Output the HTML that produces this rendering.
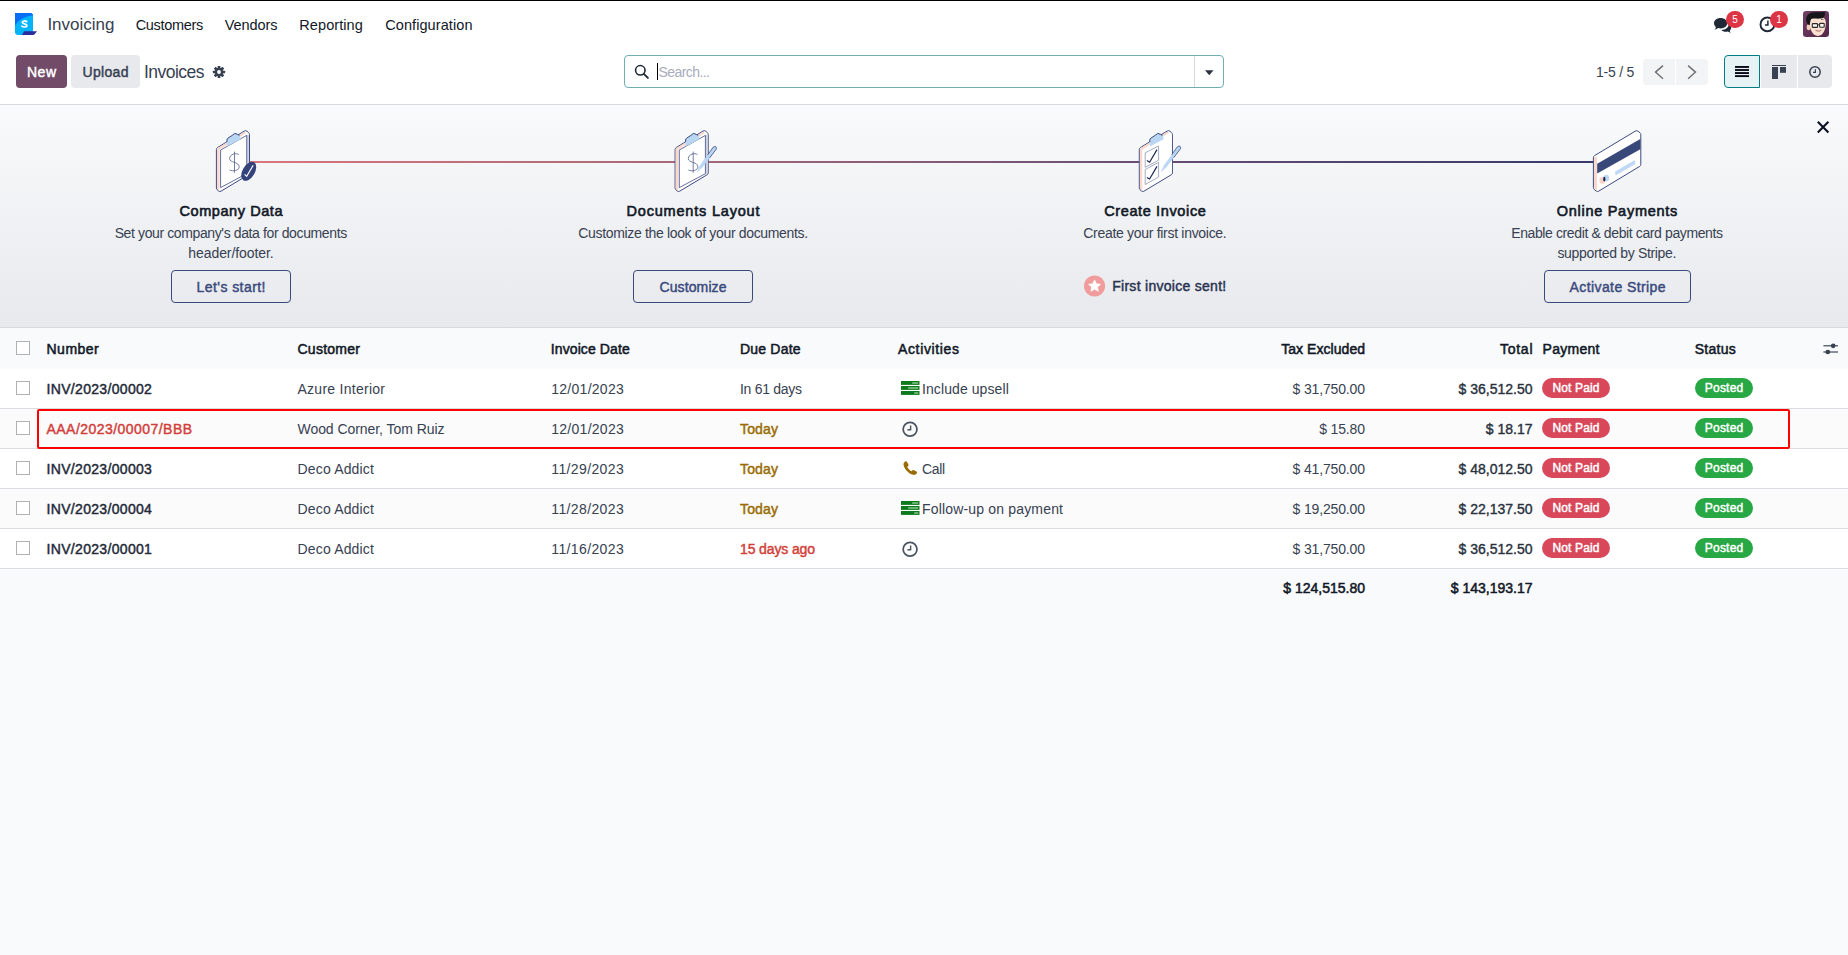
<!DOCTYPE html>
<html lang="en"><head><meta charset="utf-8"><title>Odoo - Invoices</title>
<style>
html,body{margin:0;padding:0}
body{width:1848px;height:955px;overflow:hidden;position:relative;background:#F9FAFB;font-family:"Liberation Sans",sans-serif;font-size:14px;color:#374151}
.t{position:absolute;white-space:pre;line-height:20px;font-family:"Liberation Sans",sans-serif}
svg{display:block;overflow:visible}
</style></head><body>
<div style="position:absolute;left:0px;top:0px;width:1848px;height:104px;background:#fff"></div>
<div style="position:absolute;left:0px;top:0px;width:1848px;height:1px;background:#000"></div>
<div style="position:absolute;left:0px;top:104px;width:1848px;height:1px;background:#D5D8DC"></div>
<div style="position:absolute;left:0px;top:105px;width:1848px;height:222px;background:linear-gradient(180deg,#F9FAFB 0%,#E7E9ED 100%)"></div>
<div style="position:absolute;left:0px;top:327px;width:1848px;height:1px;background:#D5D8DC"></div>
<div style="position:absolute;left:0px;top:328px;width:1848px;height:41px;background:#F9FAFB"></div>
<div style="position:absolute;left:0px;top:369px;width:1848px;height:39px;background:#fff"></div>
<div style="position:absolute;left:0px;top:408px;width:1848px;height:1px;background:#DADDE1"></div>
<div style="position:absolute;left:0px;top:409px;width:1848px;height:39px;background:#FBFBFC"></div>
<div style="position:absolute;left:0px;top:448px;width:1848px;height:1px;background:#DADDE1"></div>
<div style="position:absolute;left:0px;top:449px;width:1848px;height:39px;background:#fff"></div>
<div style="position:absolute;left:0px;top:488px;width:1848px;height:1px;background:#DADDE1"></div>
<div style="position:absolute;left:0px;top:489px;width:1848px;height:39px;background:#FBFBFC"></div>
<div style="position:absolute;left:0px;top:528px;width:1848px;height:1px;background:#DADDE1"></div>
<div style="position:absolute;left:0px;top:529px;width:1848px;height:39px;background:#fff"></div>
<div style="position:absolute;left:0px;top:568px;width:1848px;height:1px;background:#DADDE1"></div>
<svg style="position:absolute;left:15px;top:13px" width="22" height="22" viewBox="0 0 22 22">
<path d="M0 0H16.2L18 1.6V22H3.2A3.2 3.2 0 0 1 0 18.8Z" fill="#00B4FC"/>
<path d="M0 0H16.2L18 1.6V2.2C8 3.5 2 8 0 13Z" fill="#0A6EF5"/>
<path d="M9 18.2H22L19.6 21.2Q19 22 18 22H6.2Q8 21.6 9 18.2Z" fill="#2B2D9B"/>
<path d="M11.7 8.6C10.6 7.6 7.2 7.7 7.3 9.4C7.4 11.2 11.8 10.6 11.9 12.5C12 14.3 8.2 14.4 6.8 13.2" fill="none" stroke="#fff" stroke-width="1.7" stroke-linecap="round"/>
</svg>
<span class="t" style="left:47.40px;top:14.60px;font-size:17px;color:#374151;letter-spacing:-0.012px;">Invoicing</span>
<span class="t" style="left:135.70px;top:15.10px;font-size:14.5px;color:#111827;letter-spacing:-0.325px;">Customers</span>
<span class="t" style="left:224.80px;top:15.10px;font-size:14.5px;color:#111827;letter-spacing:-0.085px;">Vendors</span>
<span class="t" style="left:299.30px;top:15.10px;font-size:14.5px;color:#111827;letter-spacing:0.079px;">Reporting</span>
<span class="t" style="left:385.20px;top:15.10px;font-size:14.5px;color:#111827;letter-spacing:0.087px;">Configuration</span>
<svg style="position:absolute;left:1712px;top:16px" width="22" height="18" viewBox="0 0 22 18">
<path d="M2 7.2C2 4.2 5 2 8.6 2C12.2 2 15.2 4.2 15.2 7.2C15.2 10.2 12.2 12.4 8.6 12.4C7.7 12.4 6.9 12.3 6.1 12C5.2 12.9 4 13.5 2.6 13.7C3.4 12.9 3.8 12 3.9 11C2.7 10 2 8.7 2 7.2Z" fill="#1F2937"/>
<path d="M16.6 8.2C18.2 9 19.2 10.3 19.2 11.8C19.2 12.9 18.7 13.9 17.8 14.7C17.9 15.5 18.3 16.2 19 16.8C17.8 16.7 16.7 16.2 15.9 15.5C15.2 15.7 14.5 15.8 13.8 15.8C11.9 15.8 10.3 15.1 9.3 14C13.6 13.8 16.8 11.4 16.6 8.2Z" fill="#1F2937"/>
</svg>
<div style="position:absolute;left:1726px;top:11px;width:18px;height:17px;background:#DC3545;border-radius:9px"></div>
<span class="t" style="left:1732.32px;top:9.60px;font-size:10px;color:#fff;">5</span>
<svg style="position:absolute;left:1759px;top:16px" width="17" height="17" viewBox="0 0 17 17">
<circle cx="8.4" cy="8.4" r="6.9" fill="#fff" stroke="#1F2937" stroke-width="1.9"/>
<path d="M8.9 4.6V8.9H6" fill="none" stroke="#1F2937" stroke-width="1.5"/>
</svg>
<div style="position:absolute;left:1770px;top:11px;width:18px;height:17px;background:#DC3545;border-radius:9px"></div>
<span class="t" style="left:1776.22px;top:9.60px;font-size:10px;color:#fff;">1</span>
<svg style="position:absolute;left:1803px;top:11px" width="26" height="26" viewBox="0 0 26 26">
<defs><linearGradient id="av" x1="0" y1="0" x2="1" y2="1"><stop offset="0" stop-color="#6E3F63"/><stop offset="1" stop-color="#55284A"/></linearGradient>
<clipPath id="avc"><rect width="26" height="26" rx="3.2"/></clipPath></defs>
<g clip-path="url(#avc)">
<rect width="26" height="26" fill="url(#av)"/>
<ellipse cx="5.6" cy="16.2" rx="1.9" ry="3" fill="#F3CDB6"/>
<path d="M6.2 10C6.2 6.5 9.5 5.6 14.5 5.6C19.5 5.6 22.8 7 22.8 12C22.8 17.5 20.6 24.9 14.8 24.9C9.6 24.9 6.2 17.5 6.2 10Z" fill="#FBE2D0"/>
<path d="M3.2 9.4C2.6 4.6 6 1.6 11 1.3C15 1 18.6 1.9 21.3 0.6C22.6 2.4 22.2 5.2 20.2 6.8C16.6 8.4 11.6 7 8.2 8C7 10 7.2 12.4 6.6 14.2C4.6 13.4 3.6 11.6 3.2 9.4Z" fill="#17171B"/>
<path d="M18 8.6Q19.4 8 20.4 8.6" stroke="#2A2228" stroke-width="0.7" fill="none"/>
<rect x="9.3" y="12.6" width="5.2" height="3.8" rx="0.7" fill="#FAF6F0" stroke="#29292D" stroke-width="1.1"/>
<rect x="16.6" y="12.4" width="4.6" height="3.8" rx="0.7" fill="#FAF6F0" stroke="#29292D" stroke-width="1.1"/>
<path d="M14.5 13.8H16.6" stroke="#29292D" stroke-width="0.9"/>
<path d="M12.6 19.4Q15.6 20.6 18.3 19.2Q16.2 22 12.6 19.4Z" fill="#fff" stroke="#9A4B4B" stroke-width="0.5"/>
</g>
</svg>
<div style="position:absolute;left:16px;top:55px;width:51px;height:33px;background:#714B67;border-radius:4px"></div>
<span class="t" style="left:27.00px;top:61.70px;font-size:14px;color:#fff;-webkit-text-stroke:0.45px #fff;letter-spacing:0.496px;">New</span>
<div style="position:absolute;left:71px;top:55px;width:69px;height:33px;background:#E7E9ED;border-radius:4px"></div>
<span class="t" style="left:82.50px;top:61.70px;font-size:14px;color:#374151;-webkit-text-stroke:0.45px #374151;letter-spacing:0.327px;">Upload</span>
<span class="t" style="left:144.00px;top:62.00px;font-size:17.5px;color:#374151;letter-spacing:-0.528px;">Invoices</span>
<svg style="position:absolute;left:212px;top:65px" width="14" height="14" viewBox="0 0 14 14">
<g transform="translate(7 7)" fill="#374151">
<circle r="4.3"/>
<g id="teeth"><rect x="-1.35" y="-6.1" width="2.7" height="12.2" rx="0.5"/><rect x="-1.35" y="-6.1" width="2.7" height="12.2" rx="0.5" transform="rotate(45)"/><rect x="-1.35" y="-6.1" width="2.7" height="12.2" rx="0.5" transform="rotate(90)"/><rect x="-1.35" y="-6.1" width="2.7" height="12.2" rx="0.5" transform="rotate(135)"/></g>
<circle r="1.9" fill="#fff"/>
</g>
</svg>
<div style="position:absolute;left:624px;top:55px;width:598px;height:31px;border:1px solid #6FAEB3;border-radius:4px;background:#fff"></div>
<div style="position:absolute;left:1194px;top:56px;width:1px;height:31px;background:#D5D8DC"></div>
<svg style="position:absolute;left:634px;top:64px" width="16" height="16" viewBox="0 0 16 16">
<circle cx="6.3" cy="6.3" r="4.75" fill="none" stroke="#1F2937" stroke-width="1.6"/>
<path d="M9.8 9.8L13.9 13.9" stroke="#1F2937" stroke-width="1.9" stroke-linecap="round"/>
</svg>
<div style="position:absolute;left:657px;top:63px;width:1px;height:17px;background:#000"></div>
<span class="t" style="left:658.50px;top:61.90px;font-size:14px;color:#A8ACBC;letter-spacing:-0.566px;">Search...</span>
<svg style="position:absolute;left:1204.5px;top:69.5px" width="9" height="6" viewBox="0 0 9 6"><path d="M0 0.3H8.5L4.25 5.3Z" fill="#2B3140"/></svg>
<span class="t" style="left:1596.00px;top:61.60px;font-size:14px;color:#374151;letter-spacing:-0.215px;">1-5 / 5</span>
<div style="position:absolute;left:1643px;top:59px;width:32px;height:26px;background:#F3F4F6;border-radius:4px 0 0 4px"></div>
<div style="position:absolute;left:1676px;top:59px;width:32px;height:26px;background:#F3F4F6;border-radius:0 4px 4px 0"></div>
<svg style="position:absolute;left:1643px;top:59px" width="65" height="26" viewBox="0 0 65 26">
<path d="M20 6.6L12.5 13.1L20 19.7" fill="none" stroke="#6B7077" stroke-width="1.4"/>
<path d="M45.1 6.6L52.5 13.1L45.1 19.7" fill="none" stroke="#6B7077" stroke-width="1.4"/>
</svg>
<div style="position:absolute;left:1724px;top:55px;width:34px;height:31px;background:#E6F2F3;border:1px solid #017E84;border-radius:4px 0 0 4px"></div>
<div style="position:absolute;left:1761px;top:55px;width:36px;height:33px;background:#E7E9ED"></div>
<div style="position:absolute;left:1798px;top:55px;width:34px;height:33px;background:#E7E9ED;border-radius:0 4px 4px 0"></div>
<svg style="position:absolute;left:1735px;top:66px" width="14" height="12" viewBox="0 0 14 12"><g fill="#0B0B18"><rect y="0" width="14" height="1.9"/><rect y="3.05" width="14" height="1.9"/><rect y="6.1" width="14" height="1.9"/><rect y="9.15" width="14" height="1.9"/></g></svg>
<svg style="position:absolute;left:1772px;top:65px" width="14" height="14" viewBox="0 0 14 14"><g fill="#374151"><rect width="14" height="1"/><rect y="2" width="6" height="12"/><rect x="8" y="2" width="6" height="5.8"/></g></svg>
<svg style="position:absolute;left:1808px;top:65px" width="14" height="14" viewBox="0 0 14 14"><circle cx="7" cy="7" r="5.2" fill="none" stroke="#374151" stroke-width="1.5"/><path d="M7.4 4.2V7.4H5" fill="none" stroke="#374151" stroke-width="1.2"/></svg>
<div style="position:absolute;left:250px;top:161px;width:1345px;height:2px;background:linear-gradient(90deg,#D9757D 0%,#A56878 33%,#684E73 66%,#36396B 100%)"></div>
<svg style="position:absolute;left:0px;top:0px" width="1848" height="210" viewBox="0 0 1848 210"><path d="M217.6 147.5L244.1 131.2Q245.70000000000002 130.2 247.0 131.2L248.7 132.7Q249.5 133.4 249.5 134.5V173Q249.5 174.1 248.5 174.7L221.0 191.2Q219.70000000000002 191.9 218.6 191L217.1 189.7Q216.4 189.1 216.4 188V149.6Q216.4 148.2 217.6 147.5Z" fill="#fff" stroke="#3D4A80" stroke-width="1"/><path d="M217.0 149.4L217.8 148.1L244.4 131.8L246.4 133.1L219.6 149.6V190.6L217.0 188.6Z" fill="#FBD8CB"/><path d="M246.8 135.4L248.9 134.4V173.3L246.8 174.5Z" fill="#CDD2E0"/><path d="M220.6 150L246.70000000000002 135.4V173.7L220.6 187.6Z" fill="#fff" stroke="#3D4A80" stroke-width="0.8"/><path d="M226.9 146.6V140Q226.9 138.8 228.0 138.1L232.20000000000002 135.4Q234.8 131.9 237.6 134.4Q238.8 135.6 240.0 134.8L240.6 139.2Z" fill="#B9D6F3"/><path d="M226.9 142V140Q226.9 138.8 228.0 138.1L232.20000000000002 135.4Q234.8 131.9 237.6 134.4Q238.6 135.5 239.6 135" fill="none" stroke="#3D4A80" stroke-width="1"/><path d="M238.79999999999998 154.6C236.39999999999998 152.6 229.6 154.0 229.6 158.6C229.6 163.0 239.2 161.6 239.2 166.79999999999998C239.2 170.79999999999998 232.6 171.6 229.6 170.0" fill="none" stroke="#5C6894" stroke-width="0.85"/><path d="M234.5 151.6V172.79999999999998" stroke="#5C6894" stroke-width="0.85"/><ellipse cx="248.7" cy="171.3" rx="6.1" ry="10.5" transform="rotate(31 248.7 171.3)" fill="#34437A"/><path d="M244.6 174.4L246.7 176.4L253.2 165.2" fill="none" stroke="#fff" stroke-width="1.15"/><path d="M676.3000000000001 147.5L702.8000000000001 131.2Q704.4 130.2 705.7 131.2L707.4 132.7Q708.2 133.4 708.2 134.5V173Q708.2 174.1 707.2 174.7L679.7 191.2Q678.4 191.9 677.3000000000001 191L675.8000000000001 189.7Q675.1 189.1 675.1 188V149.6Q675.1 148.2 676.3000000000001 147.5Z" fill="#fff" stroke="#3D4A80" stroke-width="1"/><path d="M675.7 149.4L676.5 148.1L703.1 131.8L705.1 133.1L678.3000000000001 149.6V190.6L675.7 188.6Z" fill="#FBD8CB"/><path d="M705.5 135.4L707.6 134.4V173.3L705.5 174.5Z" fill="#CDD2E0"/><path d="M679.3000000000001 150L705.4 135.4V173.7L679.3000000000001 187.6Z" fill="#fff" stroke="#3D4A80" stroke-width="0.8"/><path d="M685.6 146.6V140Q685.6 138.8 686.7 138.1L690.9 135.4Q693.5 131.9 696.3000000000001 134.4Q697.5 135.6 698.7 134.8L699.3000000000001 139.2Z" fill="#B9D6F3"/><path d="M685.6 142V140Q685.6 138.8 686.7 138.1L690.9 135.4Q693.5 131.9 696.3000000000001 134.4Q697.3000000000001 135.5 698.3000000000001 135" fill="none" stroke="#3D4A80" stroke-width="1"/><path d="M697.5 154.6C695.1 152.6 688.3 154.0 688.3 158.6C688.3 163.0 697.9 161.6 697.9 166.79999999999998C697.9 170.79999999999998 691.3 171.6 688.3 170.0" fill="none" stroke="#5C6894" stroke-width="0.85"/><path d="M693.1999999999999 151.6V172.79999999999998" stroke="#5C6894" stroke-width="0.85"/><path d="M696.84 172.29L702.37 167.27L716.10 148.96Q716.49 145.83 713.61 147.11L700.04 165.55Z" fill="#B9D6F3" stroke="#B9D6F3" stroke-width="0.4" stroke-linejoin="round"/><path d="M709.48 158.11L716.30 149.11Q716.86 145.34 713.41 146.96L707.48 155.11" fill="none" stroke="#3D4A80" stroke-width="0.8" stroke-linejoin="round"/><path d="M1140.5 147.5L1167.0 131.2Q1168.6 130.2 1169.8999999999999 131.2L1171.6 132.7Q1172.3999999999999 133.4 1172.3999999999999 134.5V173Q1172.3999999999999 174.1 1171.3999999999999 174.7L1143.8999999999999 191.2Q1142.6 191.9 1141.5 191L1140.0 189.7Q1139.3 189.1 1139.3 188V149.6Q1139.3 148.2 1140.5 147.5Z" fill="#fff" stroke="#3D4A80" stroke-width="1"/><path d="M1139.8999999999999 149.4L1140.7 148.1L1167.3 131.8L1169.3 133.1L1142.5 149.6V190.6L1139.8999999999999 188.6Z" fill="#FBD8CB"/><path d="M1142.5 149.6L1169.3 133.1L1171.8 134.4V173.3L1142.7 190.8Z" fill="#fff"/><path d="M1149.8 146.6V140Q1149.8 138.8 1150.8999999999999 138.1L1155.1 135.4Q1157.7 131.9 1160.5 134.4Q1161.7 135.6 1162.8999999999999 134.8L1163.5 139.2Z" fill="#B9D6F3"/><path d="M1149.8 142V140Q1149.8 138.8 1150.8999999999999 138.1L1155.1 135.4Q1157.7 131.9 1160.5 134.4Q1161.5 135.5 1162.5 135" fill="none" stroke="#3D4A80" stroke-width="1"/><path d="M1145.2 152.8L1158.6000000000001 146V160.2L1145.2 167.3Z" fill="#fff" stroke="#7C86AC" stroke-width="0.7"/><path d="M1145.2 169.5L1158.6000000000001 162.4V177L1145.2 184.5Z" fill="#fff" stroke="#7C86AC" stroke-width="0.7"/><path d="M1146.9 160.6L1149.6000000000001 162.2L1157.0 149.6" fill="none" stroke="#1C2552" stroke-width="1.2"/><path d="M1146.9 177.4L1149.6000000000001 179L1157.0 166.4" fill="none" stroke="#1C2552" stroke-width="1.2"/><path d="M1161.04 171.89L1166.57 166.87L1180.30 148.56Q1180.69 145.43 1177.81 146.71L1164.24 165.15Z" fill="#B9D6F3" stroke="#B9D6F3" stroke-width="0.4" stroke-linejoin="round"/><path d="M1173.68 157.71L1180.50 148.71Q1181.06 144.94 1177.61 146.56L1171.68 154.71" fill="none" stroke="#3D4A80" stroke-width="0.8" stroke-linejoin="round"/><path d="M1594.6000000000001 155.6L1635.2 131.2Q1636.8000000000002 130.2 1638.2 131.3L1640.0 132.8Q1640.8000000000002 133.5 1640.8000000000002 134.6V164.6Q1640.8000000000002 165.7 1639.8000000000002 166.3L1598.6000000000001 191.2Q1597.3000000000002 191.9 1596.2 191L1594.2 189.4Q1593.4 188.7 1593.4 187.6V157.8Q1593.4 156.3 1594.6000000000001 155.6Z" fill="#fff" stroke="#3D4A80" stroke-width="1"/><path d="M1594.0 157.4L1597.0 156.6V190.4L1594.0 188.2Z" fill="#FBD8CB"/><path d="M1597.2 163.8L1640.3000000000002 138.9V149.2L1597.2 173.4Z" fill="#384878"/><path d="M1616.0 172L1634.5 161.2V163.6L1616.0 174.4Z" fill="#BFD9F5" stroke="#BFD9F5" stroke-width="1.6" stroke-linejoin="round"/><ellipse cx="1602.3000000000002" cy="180.4" rx="2.9" ry="3.4" fill="#F8D3C8"/><ellipse cx="1606.3000000000002" cy="178.1" rx="2.9" ry="3.4" fill="#BFD9F5"/><ellipse cx="1604.3000000000002" cy="179.2" rx="1.1" ry="2.4" fill="#1C2552"/></svg>
<svg style="position:absolute;left:1816px;top:120px" width="15" height="15" viewBox="0 0 15 15"><path d="M1.8 1.8L12.4 12.4M12.4 1.8L1.8 12.4" stroke="#0B1024" stroke-width="2.1"/></svg>
<span class="t" style="left:179.50px;top:201.00px;font-size:14.5px;color:#111827;-webkit-text-stroke:0.6px #111827;letter-spacing:0.571px;">Company Data</span>
<span class="t" style="left:626.50px;top:201.00px;font-size:14.5px;color:#111827;-webkit-text-stroke:0.6px #111827;letter-spacing:0.807px;">Documents Layout</span>
<span class="t" style="left:1104.15px;top:201.00px;font-size:14.5px;color:#111827;-webkit-text-stroke:0.6px #111827;letter-spacing:0.631px;">Create Invoice</span>
<span class="t" style="left:1556.75px;top:201.00px;font-size:14.5px;color:#111827;-webkit-text-stroke:0.6px #111827;letter-spacing:0.720px;">Online Payments</span>
<span class="t" style="left:114.65px;top:223.40px;font-size:14px;color:#374151;letter-spacing:-0.382px;">Set your company&#x27;s data for documents</span>
<span class="t" style="left:188.30px;top:243.40px;font-size:14px;color:#374151;letter-spacing:-0.077px;">header/footer.</span>
<span class="t" style="left:578.35px;top:223.40px;font-size:14px;color:#374151;letter-spacing:-0.342px;">Customize the look of your documents.</span>
<span class="t" style="left:1083.25px;top:223.40px;font-size:14px;color:#374151;letter-spacing:-0.298px;">Create your first invoice.</span>
<span class="t" style="left:1511.20px;top:223.40px;font-size:14px;color:#374151;letter-spacing:-0.385px;">Enable credit &amp; debit card payments</span>
<span class="t" style="left:1557.40px;top:243.40px;font-size:14px;color:#374151;letter-spacing:-0.331px;">supported by Stripe.</span>
<div style="position:absolute;left:171px;top:270px;width:118px;height:31px;border:1px solid #3A4A7E;border-radius:4px"></div>
<span class="t" style="left:196.50px;top:276.70px;font-size:14px;color:#3A4A7E;-webkit-text-stroke:0.45px #3A4A7E;letter-spacing:0.442px;">Let&#x27;s start!</span>
<div style="position:absolute;left:633px;top:270px;width:118px;height:31px;border:1px solid #3A4A7E;border-radius:4px"></div>
<span class="t" style="left:659.50px;top:276.70px;font-size:14px;color:#3A4A7E;-webkit-text-stroke:0.45px #3A4A7E;letter-spacing:0.109px;">Customize</span>
<div style="position:absolute;left:1544px;top:270px;width:145px;height:31px;border:1px solid #3A4A7E;border-radius:4px"></div>
<span class="t" style="left:1569.50px;top:276.70px;font-size:14px;color:#3A4A7E;-webkit-text-stroke:0.45px #3A4A7E;letter-spacing:0.410px;">Activate Stripe</span>
<svg style="position:absolute;left:1084px;top:275px" width="22" height="22" viewBox="0 0 22 22"><circle cx="10.6" cy="11" r="10.6" fill="#F19C9C"/>
<path d="M10.6 4.9L12.4 8.8L16.6 9.3L13.5 12.1L14.3 16.3L10.6 14.2L6.9 16.3L7.7 12.1L4.6 9.3L8.8 8.8Z" fill="#fff" stroke="#fff" stroke-width="0.7" stroke-linejoin="round"/></svg>
<span class="t" style="left:1112.20px;top:275.70px;font-size:14px;color:#2A3350;-webkit-text-stroke:0.45px #2A3350;letter-spacing:0.282px;">First invoice sent!</span>
<span class="t" style="left:46.50px;top:338.90px;font-size:14px;color:#111827;-webkit-text-stroke:0.52px #111827;letter-spacing:0.491px;">Number</span>
<span class="t" style="left:297.50px;top:338.90px;font-size:14px;color:#111827;-webkit-text-stroke:0.52px #111827;letter-spacing:0.260px;">Customer</span>
<span class="t" style="left:550.75px;top:338.90px;font-size:14px;color:#111827;-webkit-text-stroke:0.52px #111827;letter-spacing:0.107px;">Invoice Date</span>
<span class="t" style="left:740.00px;top:338.90px;font-size:14px;color:#111827;-webkit-text-stroke:0.52px #111827;letter-spacing:0.194px;">Due Date</span>
<span class="t" style="left:898.00px;top:338.90px;font-size:14px;color:#111827;-webkit-text-stroke:0.52px #111827;letter-spacing:0.641px;">Activities</span>
<span class="t" style="left:1281.25px;top:338.90px;font-size:14px;color:#111827;-webkit-text-stroke:0.52px #111827;letter-spacing:0.044px;">Tax Excluded</span>
<span class="t" style="left:1500.00px;top:338.90px;font-size:14px;color:#111827;-webkit-text-stroke:0.52px #111827;letter-spacing:0.732px;">Total</span>
<span class="t" style="left:1542.50px;top:338.90px;font-size:14px;color:#111827;-webkit-text-stroke:0.52px #111827;letter-spacing:0.292px;">Payment</span>
<span class="t" style="left:1694.70px;top:338.90px;font-size:14px;color:#111827;-webkit-text-stroke:0.52px #111827;letter-spacing:0.262px;">Status</span>
<div style="position:absolute;left:16px;top:341px;width:12px;height:12px;border:1px solid #AFB1B5;background:#fff"></div>
<svg style="position:absolute;left:1823px;top:342px" width="16" height="14" viewBox="0 0 16 14"><g stroke="#374151" stroke-width="1.15" fill="#374151">
<path d="M0.4 3.8H15" /><path d="M0.4 10H15"/><circle cx="10.2" cy="3.8" r="2.35" stroke="none"/><circle cx="4.8" cy="10" r="2.35" stroke="none"/></g></svg>
<div style="position:absolute;left:16px;top:381px;width:12px;height:12px;border:1px solid #AFB1B5;background:#fff"></div>
<span class="t" style="left:46.50px;top:378.80px;font-size:14px;color:#1F2937;-webkit-text-stroke:0.45px #1F2937;letter-spacing:0.324px;">INV/2023/00002</span>
<span class="t" style="left:297.50px;top:378.80px;font-size:14px;color:#374151;letter-spacing:0.267px;">Azure Interior</span>
<span class="t" style="left:551.25px;top:378.80px;font-size:14px;color:#374151;letter-spacing:0.270px;">12/01/2023</span>
<span class="t" style="left:740.00px;top:378.80px;font-size:14px;color:#374151;letter-spacing:-0.289px;">In 61 days</span>
<svg style="position:absolute;left:900.5px;top:380.5px" width="19" height="14" viewBox="0 0 19 14"><g><rect x="0" y="0" width="18.5" height="3.9" fill="#0E7A1E"/><rect x="0" y="5" width="18.5" height="3.9" fill="#0E7A1E"/><rect x="0" y="10" width="18.5" height="3.9" fill="#0E7A1E"/>
<rect x="11.2" y="1.4" width="6" height="1.2" fill="#9FD9A6"/><rect x="7.2" y="6.4" width="10" height="1.2" fill="#9FD9A6"/><rect x="13.2" y="11.4" width="4" height="1.2" fill="#9FD9A6"/></g></svg>
<span class="t" style="left:922.00px;top:378.80px;font-size:14px;color:#374151;letter-spacing:0.087px;">Include upsell</span>
<span class="t" style="left:1292.50px;top:378.80px;font-size:14px;color:#374151;letter-spacing:-0.146px;">$ 31,750.00</span>
<span class="t" style="left:1458.54px;top:378.80px;font-size:14px;color:#29313E;-webkit-text-stroke:0.38px #29313E;">$ 36,512.50</span>
<div style="position:absolute;left:1542px;top:378px;width:68px;height:20px;background:#D9475A;border-radius:10px"></div>
<span class="t" style="left:1552.50px;top:378.30px;font-size:12px;color:#fff;-webkit-text-stroke:0.45px #fff;letter-spacing:0.139px;">Not Paid</span>
<div style="position:absolute;left:1695px;top:378px;width:58px;height:20px;background:#28A745;border-radius:10px"></div>
<span class="t" style="left:1704.75px;top:378.30px;font-size:12px;color:#fff;-webkit-text-stroke:0.45px #fff;letter-spacing:0.228px;">Posted</span>
<div style="position:absolute;left:16px;top:421px;width:12px;height:12px;border:1px solid #AFB1B5;background:#fff"></div>
<span class="t" style="left:46.50px;top:418.80px;font-size:14px;color:#D23F3A;-webkit-text-stroke:0.45px #D23F3A;letter-spacing:0.455px;">AAA/2023/00007/BBB</span>
<span class="t" style="left:297.50px;top:418.80px;font-size:14px;color:#374151;letter-spacing:-0.055px;">Wood Corner, Tom Ruiz</span>
<span class="t" style="left:551.25px;top:418.80px;font-size:14px;color:#374151;letter-spacing:0.270px;">12/01/2023</span>
<span class="t" style="left:740.00px;top:418.80px;font-size:14px;color:#9A6B01;-webkit-text-stroke:0.45px #9A6B01;letter-spacing:0.160px;">Today</span>
<svg style="position:absolute;left:902px;top:421px" width="16" height="16" viewBox="0 0 16 16"><circle cx="8.05" cy="8.15" r="6.9" fill="none" stroke="#4B5260" stroke-width="1.75"/><path d="M8.6 4.5V8.7H5.4" fill="none" stroke="#4B5260" stroke-width="1.45"/></svg>
<span class="t" style="left:1319.21px;top:418.80px;font-size:14px;color:#374151;letter-spacing:-0.154px;">$ 15.80</span>
<span class="t" style="left:1485.79px;top:418.80px;font-size:14px;color:#29313E;-webkit-text-stroke:0.38px #29313E;">$ 18.17</span>
<div style="position:absolute;left:1542px;top:418px;width:68px;height:20px;background:#D9475A;border-radius:10px"></div>
<span class="t" style="left:1552.50px;top:418.30px;font-size:12px;color:#fff;-webkit-text-stroke:0.45px #fff;letter-spacing:0.139px;">Not Paid</span>
<div style="position:absolute;left:1695px;top:418px;width:58px;height:20px;background:#28A745;border-radius:10px"></div>
<span class="t" style="left:1704.75px;top:418.30px;font-size:12px;color:#fff;-webkit-text-stroke:0.45px #fff;letter-spacing:0.228px;">Posted</span>
<div style="position:absolute;left:16px;top:461px;width:12px;height:12px;border:1px solid #AFB1B5;background:#fff"></div>
<span class="t" style="left:46.50px;top:458.80px;font-size:14px;color:#1F2937;-webkit-text-stroke:0.45px #1F2937;letter-spacing:0.324px;">INV/2023/00003</span>
<span class="t" style="left:297.50px;top:458.80px;font-size:14px;color:#374151;letter-spacing:0.169px;">Deco Addict</span>
<span class="t" style="left:551.25px;top:458.80px;font-size:14px;color:#374151;letter-spacing:0.386px;">11/29/2023</span>
<span class="t" style="left:740.00px;top:458.80px;font-size:14px;color:#9A6B01;-webkit-text-stroke:0.45px #9A6B01;letter-spacing:0.160px;">Today</span>
<svg style="position:absolute;left:902.5px;top:461px" width="15" height="15" viewBox="0 0 15 15"><path d="M2.2 0.6C2.9 0.2 3.6 0.3 4 1L5.4 3.6C5.7 4.2 5.5 4.8 5 5.2L4.2 5.8C4.9 7.6 6.6 9.4 8.6 10.3L9.3 9.5C9.8 9 10.4 8.9 11 9.2L13.4 10.6C14.1 11 14.2 11.8 13.7 12.5C12.9 13.6 11.6 14.2 10.2 13.8C5.6 12.6 1.6 8.4 0.6 4C0.3 2.6 1 1.3 2.2 0.6Z" fill="#9A6B01"/></svg>
<span class="t" style="left:922.00px;top:458.80px;font-size:14px;color:#374151;letter-spacing:-0.372px;">Call</span>
<span class="t" style="left:1292.50px;top:458.80px;font-size:14px;color:#374151;letter-spacing:-0.146px;">$ 41,750.00</span>
<span class="t" style="left:1458.54px;top:458.80px;font-size:14px;color:#29313E;-webkit-text-stroke:0.38px #29313E;">$ 48,012.50</span>
<div style="position:absolute;left:1542px;top:458px;width:68px;height:20px;background:#D9475A;border-radius:10px"></div>
<span class="t" style="left:1552.50px;top:458.30px;font-size:12px;color:#fff;-webkit-text-stroke:0.45px #fff;letter-spacing:0.139px;">Not Paid</span>
<div style="position:absolute;left:1695px;top:458px;width:58px;height:20px;background:#28A745;border-radius:10px"></div>
<span class="t" style="left:1704.75px;top:458.30px;font-size:12px;color:#fff;-webkit-text-stroke:0.45px #fff;letter-spacing:0.228px;">Posted</span>
<div style="position:absolute;left:16px;top:501px;width:12px;height:12px;border:1px solid #AFB1B5;background:#fff"></div>
<span class="t" style="left:46.50px;top:498.80px;font-size:14px;color:#1F2937;-webkit-text-stroke:0.45px #1F2937;letter-spacing:0.324px;">INV/2023/00004</span>
<span class="t" style="left:297.50px;top:498.80px;font-size:14px;color:#374151;letter-spacing:0.169px;">Deco Addict</span>
<span class="t" style="left:551.25px;top:498.80px;font-size:14px;color:#374151;letter-spacing:0.386px;">11/28/2023</span>
<span class="t" style="left:740.00px;top:498.80px;font-size:14px;color:#9A6B01;-webkit-text-stroke:0.45px #9A6B01;letter-spacing:0.160px;">Today</span>
<svg style="position:absolute;left:900.5px;top:500.5px" width="19" height="14" viewBox="0 0 19 14"><g><rect x="0" y="0" width="18.5" height="3.9" fill="#0E7A1E"/><rect x="0" y="5" width="18.5" height="3.9" fill="#0E7A1E"/><rect x="0" y="10" width="18.5" height="3.9" fill="#0E7A1E"/>
<rect x="11.2" y="1.4" width="6" height="1.2" fill="#9FD9A6"/><rect x="7.2" y="6.4" width="10" height="1.2" fill="#9FD9A6"/><rect x="13.2" y="11.4" width="4" height="1.2" fill="#9FD9A6"/></g></svg>
<span class="t" style="left:922.00px;top:498.80px;font-size:14px;color:#374151;letter-spacing:0.172px;">Follow-up on payment</span>
<span class="t" style="left:1292.50px;top:498.80px;font-size:14px;color:#374151;letter-spacing:-0.146px;">$ 19,250.00</span>
<span class="t" style="left:1458.54px;top:498.80px;font-size:14px;color:#29313E;-webkit-text-stroke:0.38px #29313E;">$ 22,137.50</span>
<div style="position:absolute;left:1542px;top:498px;width:68px;height:20px;background:#D9475A;border-radius:10px"></div>
<span class="t" style="left:1552.50px;top:498.30px;font-size:12px;color:#fff;-webkit-text-stroke:0.45px #fff;letter-spacing:0.139px;">Not Paid</span>
<div style="position:absolute;left:1695px;top:498px;width:58px;height:20px;background:#28A745;border-radius:10px"></div>
<span class="t" style="left:1704.75px;top:498.30px;font-size:12px;color:#fff;-webkit-text-stroke:0.45px #fff;letter-spacing:0.228px;">Posted</span>
<div style="position:absolute;left:16px;top:541px;width:12px;height:12px;border:1px solid #AFB1B5;background:#fff"></div>
<span class="t" style="left:46.50px;top:538.80px;font-size:14px;color:#1F2937;-webkit-text-stroke:0.45px #1F2937;letter-spacing:0.324px;">INV/2023/00001</span>
<span class="t" style="left:297.50px;top:538.80px;font-size:14px;color:#374151;letter-spacing:0.169px;">Deco Addict</span>
<span class="t" style="left:551.25px;top:538.80px;font-size:14px;color:#374151;letter-spacing:0.386px;">11/16/2023</span>
<span class="t" style="left:740.00px;top:538.80px;font-size:14px;color:#D23F3A;-webkit-text-stroke:0.45px #D23F3A;letter-spacing:-0.128px;">15 days ago</span>
<svg style="position:absolute;left:902px;top:541px" width="16" height="16" viewBox="0 0 16 16"><circle cx="8.05" cy="8.15" r="6.9" fill="none" stroke="#4B5260" stroke-width="1.75"/><path d="M8.6 4.5V8.7H5.4" fill="none" stroke="#4B5260" stroke-width="1.45"/></svg>
<span class="t" style="left:1292.50px;top:538.80px;font-size:14px;color:#374151;letter-spacing:-0.146px;">$ 31,750.00</span>
<span class="t" style="left:1458.54px;top:538.80px;font-size:14px;color:#29313E;-webkit-text-stroke:0.38px #29313E;">$ 36,512.50</span>
<div style="position:absolute;left:1542px;top:538px;width:68px;height:20px;background:#D9475A;border-radius:10px"></div>
<span class="t" style="left:1552.50px;top:538.30px;font-size:12px;color:#fff;-webkit-text-stroke:0.45px #fff;letter-spacing:0.139px;">Not Paid</span>
<div style="position:absolute;left:1695px;top:538px;width:58px;height:20px;background:#28A745;border-radius:10px"></div>
<span class="t" style="left:1704.75px;top:538.30px;font-size:12px;color:#fff;-webkit-text-stroke:0.45px #fff;letter-spacing:0.228px;">Posted</span>
<div style="position:absolute;left:37px;top:409px;width:1749px;height:36px;border:2px solid #FF0000;border-radius:2px"></div>
<span class="t" style="left:1283.26px;top:577.60px;font-size:14px;color:#111827;-webkit-text-stroke:0.52px #111827;">$ 124,515.80</span>
<span class="t" style="left:1450.76px;top:577.60px;font-size:14px;color:#111827;-webkit-text-stroke:0.52px #111827;">$ 143,193.17</span>
</body></html>
